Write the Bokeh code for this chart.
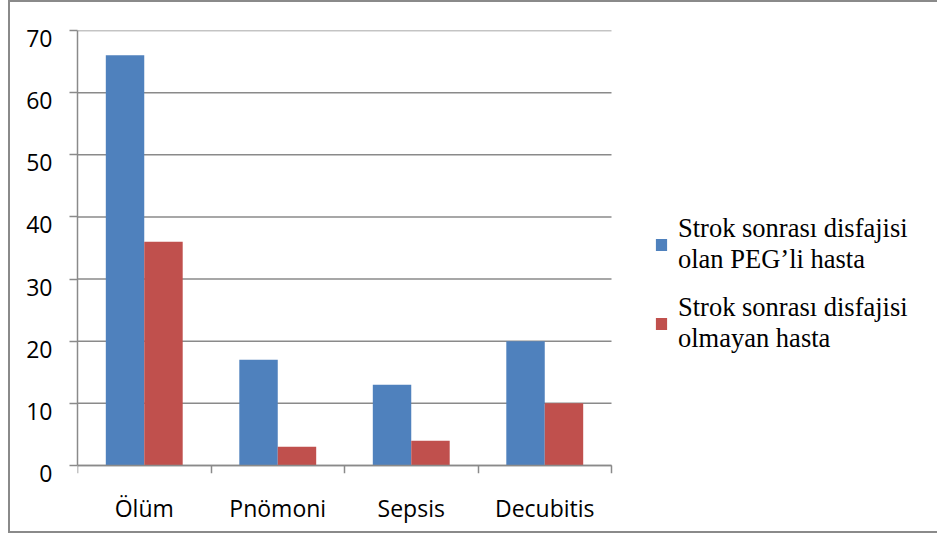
from bokeh.plotting import figure
from bokeh.models import (ColumnDataSource, Range1d, LinearAxis, LinearScale,
                          FixedTicker, Grid, Legend, LegendItem)
from bokeh.transform import dodge
from bokeh.embed import file_html
from bokeh.resources import INLINE

# ---- data ----
categories = ["Ölüm", "Pnömoni", "Sepsis", "Decubitis"]
peg_values = [66, 17, 13, 20]
no_dys_values = [36, 3, 4, 10]
series_names = ["Strok sonrası disfajisi\nolan PEG’li hasta",
                "Strok sonrası disfajisi\nolmayan hasta"]
y_ticks = [0, 10, 20, 30, 40, 50, 60, 70]
y_tick_labels = ["0", "10", "20", "30", "40", "50", "60", "70"]

W, H = 929, 533
GRAY = "#8a8a8a"
BLUE = "#4F81BD"
RED = "#C0504D"
SANS = "Open Sans"
SERIF = "Liberation Serif"

# layout (canvas px)
LEFT, TOP, BOTTOM = 69, 30, 60
PLOT_W = 534            # width of the category area
PLOT_H = 435            # height of 0..70
EXT = 8                 # frame extension below zero (px)
n = len(categories)
ymax = 70
frame_w = W - LEFT
d = EXT * ymax / PLOT_H
x_end = n * frame_w / PLOT_W

centers = [i + 0.5 for i in range(n)]
src = ColumnDataSource(dict(x=centers, cat=categories, peg=peg_values, nod=no_dys_values))
grid_src = ColumnDataSource(dict(y=y_ticks, x0=[0] * len(y_ticks), x1=[n] * len(y_ticks)))

p = figure(width=W, height=H, output_backend="svg", toolbar_location=None,
           x_range=Range1d(0, x_end), y_range=Range1d(-d, ymax),
           x_axis_location=None, y_axis_location=None,
           min_border_left=LEFT, min_border_right=0, min_border_top=TOP, min_border_bottom=BOTTOM)
p.margin = (0, 0, 0, 8)
p.styles = {"box-shadow": "inset 2px 0 0 0 #8a8a8a, inset 0 2px 0 0 #8a8a8a, inset 0 -2px 0 0 #8a8a8a"}
p.outline_line_color = None
p.background_fill_color = None
p.border_fill_color = None
p.center = [r for r in p.center if not isinstance(r, Grid)]

p.extra_y_ranges = {"ylab": Range1d(0, ymax + d)}
p.extra_y_scales = {"ylab": LinearScale()}

# gridlines over the category area
p.segment(x0="x0", x1="x1", y0="y", y1="y", source=grid_src, line_color=GRAY, line_width=1.5)

# main y axis: line + outside ticks, no labels
yaxis = LinearAxis(ticker=FixedTicker(ticks=y_ticks), bounds=(0, ymax),
                   axis_line_color=GRAY, axis_line_width=1.5,
                   major_tick_line_color=GRAY, major_tick_line_width=1.5,
                   major_tick_out=8, major_tick_in=0, minor_tick_line_color=None,
                   major_label_overrides={v: "" for v in y_ticks}, major_label_standoff=0)
p.add_layout(yaxis, "left")

# label y axis (labels sit a little below their gridline)
ylab = LinearAxis(y_range_name="ylab", ticker=FixedTicker(ticks=y_ticks),
                  axis_line_color=None, major_tick_line_color=None, minor_tick_line_color=None,
                  major_tick_out=0, major_tick_in=0,
                  major_label_overrides={v: t for v, t in zip(y_ticks, y_tick_labels)},
                  major_label_text_font=SANS, major_label_text_font_size="23px",
                  major_label_text_color="black", major_label_standoff=17)
p.add_layout(ylab, "left")

# x axis at zero with ticks at category edges
edges = list(range(n + 1))
xedges = LinearAxis(ticker=FixedTicker(ticks=edges), bounds=(0, n), fixed_location=0,
                    axis_line_color=GRAY, axis_line_width=1.5,
                    major_tick_line_color=GRAY, major_tick_line_width=1.5,
                    major_tick_out=8, major_tick_in=0, minor_tick_line_color=None,
                    major_label_overrides={i: "" for i in edges},
                    major_label_standoff=0)
p.add_layout(xedges, "below")

# x category label axis
xcat = LinearAxis(ticker=FixedTicker(ticks=centers),
                  axis_line_color=None, major_tick_line_color=None, major_tick_out=0,
                  major_tick_in=0, minor_tick_line_color=None,
                  major_label_overrides={c: name for c, name in zip(centers, categories)},
                  major_label_text_font=SANS, major_label_text_font_size="23px",
                  major_label_text_color="black", major_label_standoff=18)
p.add_layout(xcat, "below")

r1 = p.vbar(x=dodge("x", -0.144), top="peg", width=0.288, source=src,
            fill_color=BLUE, line_color=None)
r2 = p.vbar(x=dodge("x", 0.144), top="nod", width=0.288, source=src,
            fill_color=RED, line_color=None)

legend = Legend(items=[LegendItem(label=series_names[0], renderers=[r1]),
                       LegendItem(label=series_names[1], renderers=[r2])],
                location=(577, 119), orientation="vertical",
                padding=0, margin=0, spacing=17,
                glyph_width=14, glyph_height=15, label_standoff=10,
                label_text_font=SERIF, label_text_font_size="26.5px",
                label_text_line_height=1.7, label_text_color="black",
                background_fill_alpha=0, border_line_color=None)
p.add_layout(legend, "center")

open("out.html", "w").write(file_html(p, INLINE))
